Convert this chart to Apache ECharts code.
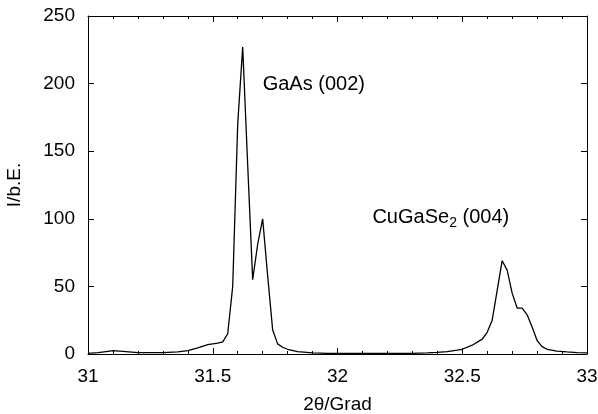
<!DOCTYPE html>
<html>
<head>
<meta charset="utf-8">
<script src="https://cdn.jsdelivr.net/npm/echarts@6/dist/echarts.min.js"></script>
<style>
  html, body { margin: 0; padding: 0; background: #fff; }
  #chart { width: 598px; height: 414px; }
</style>
</head>
<body>
<div id="chart"></div>
<script>
// 2theta positions (deg) and intensities
var twoTheta = [
  31.00, 31.04, 31.08, 31.10, 31.14, 31.20, 31.26, 31.30, 31.36, 31.40,
  31.44, 31.48, 31.52, 31.54, 31.56, 31.58, 31.60, 31.62, 31.64, 31.66,
  31.68, 31.70, 31.72, 31.74, 31.76, 31.78, 31.80, 31.84, 31.90, 31.96,
  32.10, 32.20, 32.30, 32.36, 32.40, 32.44, 32.48, 32.50, 32.54, 32.58,
  32.60, 32.62, 32.64, 32.66, 32.68, 32.70, 32.72, 32.74, 32.76, 32.78,
  32.80, 32.82, 32.84, 32.88, 32.92, 32.96, 33.00
];
var intensity = [
  0.5, 1, 2, 2.5, 2, 1, 1, 1, 1.5, 2.5,
  4.5, 7, 8, 9, 15, 50, 170, 227, 140, 55,
  81, 100, 58, 18, 7.5, 5, 3.5, 1.8, 0.8, 0.5,
  0.5, 0.5, 0.5, 0.8, 1.2, 1.8, 2.8, 3.5, 6.5, 11,
  16, 25, 47, 69, 62, 45, 34, 34, 29, 20,
  10, 5.5, 3.5, 2.2, 1.5, 1, 0.8
];
var xTicks = { min: 31, max: 33, step: 0.5 };
var yTicks = { min: 0, max: 250, step: 50 };
var peakLabels = [
  { name: "GaAs", x: 31.70, y: 199, text: "GaAs (002)" },
  { name: "CuGaSe2", x: 32.14, y: 101, text: "CuGaSe{sub|2} (004)" }
];

var font = "Liberation Sans";
var chart = echarts.init(document.getElementById("chart"), null, { renderer: "canvas" });

var seriesData = twoTheta.map(function (x, i) { return [x, intensity[i]]; });

function xAxisDef(showLabels, pos) {
  return {
    type: "value",
    position: pos,
    min: xTicks.min,
    max: xTicks.max,
    interval: xTicks.step,
    name: showLabels ? "2\u03b8/Grad" : "",
    nameLocation: "middle",
    nameGap: 41,
    nameTextStyle: { fontFamily: font, fontSize: 19, color: "#000" },
    axisLine: { show: true, onZero: false, lineStyle: { color: "#000", width: 1 } },
    axisTick: { show: true, inside: true, length: 6, lineStyle: { color: "#000" } },
    minorTick: { show: true, splitNumber: 5, length: 3, lineStyle: { color: "#000" } },
    axisLabel: {
      show: showLabels, margin: 13, fontFamily: font, fontSize: 19, color: "#000",
      showMinLabel: true, showMaxLabel: true
    },
    splitLine: { show: false }
  };
}

function yAxisDef(showLabels, pos) {
  return {
    type: "value",
    position: pos,
    min: yTicks.min,
    max: yTicks.max,
    interval: yTicks.step,
    name: showLabels ? "I/b.E." : "",
    nameLocation: "middle",
    nameGap: 64,
    nameRotate: 90,
    nameTextStyle: { fontFamily: font, fontSize: 19, color: "#000" },
    axisLine: { show: true, onZero: false, lineStyle: { color: "#000", width: 1 } },
    axisTick: { show: true, inside: true, length: 6, lineStyle: { color: "#000" } },
    axisLabel: { show: showLabels, margin: 13, fontFamily: font, fontSize: 19, color: "#000" },
    splitLine: { show: false }
  };
}

var option = {
  animation: false,
  backgroundColor: "#fff",
  grid: { left: 88, right: 11, top: 16, bottom: 60, containLabel: false, outerBoundsMode: "none" },
  xAxis: [xAxisDef(true, "bottom"), xAxisDef(false, "top")],
  yAxis: [yAxisDef(true, "left"), yAxisDef(false, "right")],
  series: [
    {
      type: "line",
      name: "scan",
      data: seriesData,
      showSymbol: false,
      symbol: "none",
      smooth: false,
      lineStyle: { color: "#000", width: 1.3 },
      markPoint: {
        symbol: "circle",
        symbolSize: 0,
        silent: true,
        label: {
          show: true,
          position: "right",
          distance: 0,
          fontFamily: font,
          fontSize: 20,
          color: "#000",
          formatter: function (p) { return p.data.text; },
          rich: {
            sub: { fontFamily: font, fontSize: 14, color: "#000", padding: [12, 0, 0, 0] }
          }
        },
        data: peakLabels.map(function (d) {
          return { name: d.name, coord: [d.x, d.y], text: d.text };
        })
      }
    }
  ]
};

chart.setOption(option);
</script>
</body>
</html>
